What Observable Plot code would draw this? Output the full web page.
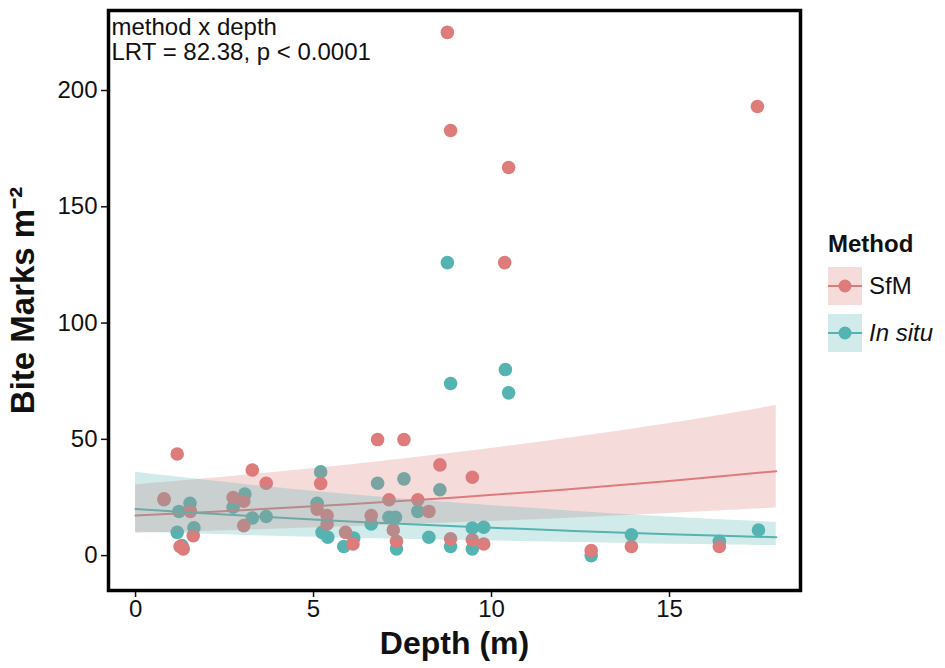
<!DOCTYPE html>
<html>
<head>
<meta charset="utf-8">
<script src="https://cdn.jsdelivr.net/npm/d3@7"></script>
<script src="https://cdn.jsdelivr.net/npm/@observablehq/plot@0.6"></script>
<style>
  body { margin: 0; background: #fff; font-family: "Liberation Sans", Arial, sans-serif; }
  #wrap { position: relative; width: 945px; height: 668px; }
  #legend { position: absolute; left: 828px; top: 230px; font-size: 24px; color: #111; }
  #legend .title { font-weight: bold; margin-bottom: 4px; }
  #legend .row { display: flex; align-items: center; height: 47px; }
  #legend svg { margin-right: 7px; }
</style>
</head>
<body>
<div id="wrap">
  <div id="chart"></div>
  <div id="legend"></div>
</div>
<script>
// colores
const red = "#de7b7b"
const teal = "#55b4b1"

// SfM
const sfmDepth = [1.17, 3.28, 3.67, 0.80, 1.54, 1.62, 1.25, 1.34, 2.74, 3.04, 3.04, 5.2, 6.8, 7.54, 8.55, 9.46, 5.1, 5.38, 5.38, 5.9, 6.11, 6.62, 7.12, 7.24, 7.33, 7.93, 8.24, 8.85, 9.46, 9.78, 12.8, 13.93, 16.4, 8.76, 8.85, 10.48, 17.47, 10.37]
const sfmBites = [43.7, 36.8, 31.1, 24.4, 19, 8.6, 3.9, 2.9, 25, 23.4, 12.9, 31, 49.9, 49.9, 39, 33.7, 20, 17.2, 13.6, 10, 5, 17.2, 24, 11, 6.2, 24, 19, 7.2, 6.8, 5, 2.2, 3.9, 3.9, 225, 182.8, 166.9, 193.1, 126]

// In situ
const situDepth = [0.80, 1.53, 1.22, 1.17, 1.64, 1.3, 3.07, 2.74, 3.28, 3.67, 5.2, 6.8, 7.54, 8.55, 5.1, 5.24, 5.4, 6.13, 5.85, 6.62, 7.12, 7.3, 7.33, 7.93, 8.24, 8.85, 9.46, 9.46, 9.78, 12.8, 13.93, 16.4, 17.5, 8.76, 8.85, 10.39, 10.48]
const situBites = [24, 22.5, 19, 10, 12, 4.3, 26.5, 20.8, 16.2, 16.8, 36, 31.1, 33, 28.3, 22.5, 10, 7.9, 7.6, 3.9, 13.6, 16.5, 16.5, 2.9, 19, 7.9, 3.9, 11.9, 2.9, 12.2, 0, 9, 6.2, 11, 126, 74, 80, 70]

// ajuste del modelo
const fitDepth = [0, 3, 6, 9, 12, 15, 18]
const sfmFit = [17.2, 19.5, 22.1, 25.0, 28.3, 32.1, 36.3]
const sfmLo = [9.6, 10.9, 12.4, 14.1, 16.0, 18.1, 20.5]
const sfmHi = [30.5, 34.5, 39.0, 44.2, 50.1, 56.8, 64.5]
const situFit = [20.0, 17.2, 14.7, 12.6, 10.8, 9.2, 7.9]
const situLo = [10.0, 8.7, 7.5, 6.6, 5.7, 4.9, 4.3]
const situHi = [35.8, 30.7, 26.3, 22.6, 19.4, 16.6, 14.3]

const methods = ["SfM", "In situ"]

const points = [
  ...situDepth.map((d, i) => ({depth: d, bites: situBites[i], method: "In situ"})),
  ...sfmDepth.map((d, i) => ({depth: d, bites: sfmBites[i], method: "SfM"}))
]
const fits = [
  ...fitDepth.map((d, i) => ({depth: d, fit: sfmFit[i], lo: sfmLo[i], hi: sfmHi[i], method: "SfM"})),
  ...fitDepth.map((d, i) => ({depth: d, fit: situFit[i], lo: situLo[i], hi: situHi[i], method: "In situ"}))
]

const chart = Plot.plot({
  width: 945,
  height: 668,
  marginLeft: 108,
  marginRight: 145,
  marginTop: 10,
  marginBottom: 78,
  style: {fontFamily: "Liberation Sans, Arial, sans-serif", background: "white", color: "#111"},
  x: {domain: [-0.76, 18.68], ticks: [0, 5, 10, 15], label: null},
  y: {domain: [-15, 234.4], ticks: [0, 50, 100, 150, 200], label: null},
  color: {domain: methods, range: [red, teal]},
  marks: [
    Plot.dot(points, {x: "depth", y: "bites", fill: "method", r: 6.8}),
    Plot.line(fits, {x: "depth", y: "fit", stroke: "method", z: "method", strokeWidth: 2, curve: "catmull-rom"}),
    Plot.areaY(fits, {x: "depth", y1: "lo", y2: "hi", fill: "method", z: "method", fillOpacity: 0.27, curve: "catmull-rom"}),
    Plot.axisX({ticks: [0, 5, 10, 15], tickSize: 7, tickPadding: 2, fontSize: 24, label: null, strokeWidth: 1.5}),
    Plot.axisY({ticks: [0, 50, 100, 150, 200], tickSize: 7, tickPadding: 4, fontSize: 24, label: null, strokeWidth: 1.5}),
    Plot.frame({stroke: "black", strokeWidth: 3.5}),
    Plot.text(["method x depth"], {text: d => d, frameAnchor: "top-left", textAnchor: "start", lineAnchor: "middle", dx: 3, dy: 17, fontSize: 24}),
    Plot.text(["LRT = 82.38, p < 0.0001"], {text: d => d, frameAnchor: "top-left", textAnchor: "start", lineAnchor: "middle", dx: 3, dy: 42, fontSize: 24}),
    Plot.text(["Depth (m)"], {text: d => d, frameAnchor: "bottom", textAnchor: "middle", lineAnchor: "middle", dy: 53, fontSize: 32, fontWeight: "bold"}),
    Plot.text(["Bite Marks m⁻²"], {text: d => d, frameAnchor: "left", textAnchor: "middle", lineAnchor: "middle", rotate: -90, dx: -85, fontSize: 33, fontWeight: "bold"})
  ]
})

d3.select("#chart").append(() => chart)

// leyenda
const leg = d3.select("#legend")
leg.append("div").attr("class", "title").text("Method")
methods.forEach((m, i) => {
  const c = i === 0 ? red : teal
  const row = leg.append("div").attr("class", "row")
  const s = row.append("svg").attr("width", 34).attr("height", 38)
  s.append("rect").attr("width", 34).attr("height", 38).attr("fill", c).attr("fill-opacity", 0.27)
  s.append("line").attr("x1", 0).attr("x2", 34).attr("y1", 19).attr("y2", 19).attr("stroke", c).attr("stroke-width", 2)
  s.append("circle").attr("cx", 17).attr("cy", 19).attr("r", 6.5).attr("fill", c)
  row.append("span").style("font-style", i === 1 ? "italic" : "normal").text(m)
})
</script>
</body>
</html>
